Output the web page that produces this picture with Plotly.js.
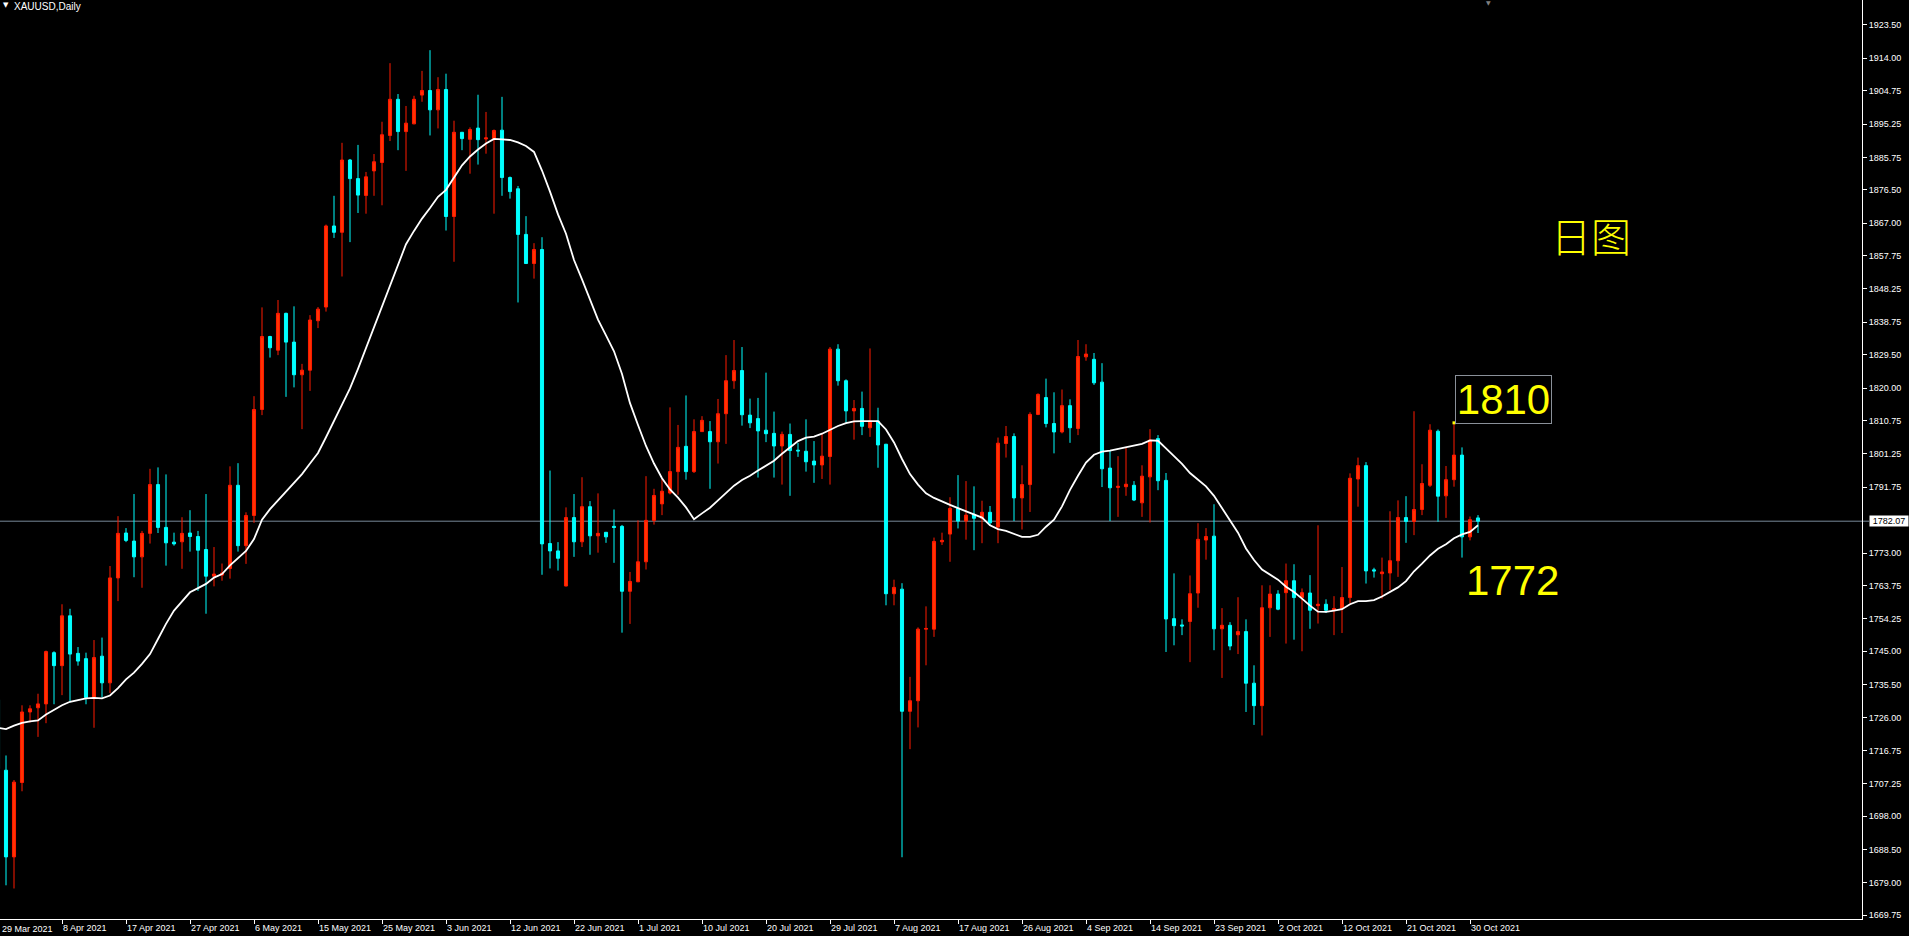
<!DOCTYPE html>
<html><head><meta charset="utf-8">
<script src="https://cdn.plot.ly/plotly-3.0.1.min.js"></script>
<style>html,body{margin:0;padding:0;background:#000;overflow:hidden}#chart{width:1909px;height:936px}</style>
</head><body><div id="chart"></div>
<script>
// XAUUSD Daily OHLC, one value per bar
const openP = [1731.2,1711.1,1686.4,1707.6,1727.7,1728.9,1730.0,1744.6,1740.9,1755.1,1744.4,1742.9,1731.8,1743.6,1736.0,1765.9,1778.7,1776.4,1771.9,1778.6,1792.5,1780.3,1776.1,1776.2,1778.7,1777.7,1774.0,1766.4,1766.7,1768.6,1792.3,1775.1,
1783.7,1813.9,1834.7,1830.8,1841.3,1833.1,1823.8,1825.1,1839.2,1843.1,1866.2,1864.4,1885.0,1879.7,1874.9,1881.9,1884.3,1892.0,1902.3,1893.1,1895.3,1903.5,1904.8,1899.3,1905.1,1868.9,1892.9,1890.9,1894.1,1891.0,1891.1,
1893.5,1880.0,1876.8,1863.8,1855.5,1859.5,1775.7,1773.6,1763.6,1783.1,1776.2,1786.2,1777.9,1778.9,1780.6,1780.6,1762.1,1764.8,1770.5,1782.3,1787.0,1790.1,1796.2,1803.4,1796.2,1807.6,1807.6,1804.7,1812.7,1822.1,1825.0,
1812.3,1811.3,1808.0,1807.1,1803.5,1806.8,1802.3,1802.0,1799.2,1798.1,1800.5,1831.1,1822.1,1813.5,1814.2,1808.7,1810.6,1804.0,1761.4,1762.7,1727.9,1730.9,1751.3,1751.3,1776.2,1778.4,1785.7,1782.1,1784.0,1782.9,1784.6,1780.4,
1804.2,1806.2,1788.7,1792.5,1812.5,1817.3,1809.9,1807.5,1815.0,1808.5,1828.9,1828.2,1821.7,1797.2,1791.7,1791.9,1792.3,1787.3,1794.7,1805.6,1793.7,1754.3,1752.5,1753.5,1761.6,1776.7,1777.8,1751.4,1752.4,1749.7,1750.6,
1735.9,1729.5,1757.4,1761.3,1761.7,1765.1,1760.3,1761.6,1758.0,1758.4,1756.7,1757.1,1760.3,1794.1,1797.9,1768.2,1767.1,1767.3,1770.8,1783.1,1782.0,1785.4,1792.3,1807.7,1789.3,1793.9,1800.9,1777.6,1783.0];
const highP = [1732.5,1715.3,1708.3,1729.6,1729.6,1732.9,1745.2,1745.0,1758.4,1757.1,1746.2,1744.6,1748.2,1748.9,1769.3,1783.5,1780.1,1789.8,1779.3,1797.0,1797.4,1795.4,1778.8,1783.2,1785.2,1779.3,1789.8,1774.7,1770.0,1797.7,1798.6,1784.6,
1817.7,1843.0,1834.9,1845.1,1841.5,1843.3,1826.9,1840.8,1843.1,1866.6,1874.8,1889.9,1885.3,1889.3,1881.6,1886.7,1895.9,1912.6,1903.8,1900.4,1903.3,1910.4,1916.3,1908.6,1909.6,1896.2,1893.0,1894.3,1903.6,1898.7,1893.7,
1903.0,1880.3,1877.6,1869.0,1861.3,1863.0,1796.5,1776.1,1786.0,1789.8,1794.6,1787.8,1790.0,1779.0,1785.4,1781.0,1767.6,1782.3,1794.9,1791.3,1794.1,1814.5,1809.5,1817.9,1811.1,1812.0,1810.6,1816.9,1829.4,1833.7,1831.7,
1817.0,1817.2,1824.4,1813.3,1807.6,1809.9,1804.4,1811.1,1804.9,1807.1,1831.7,1832.5,1822.5,1816.6,1819.0,1831.3,1814.4,1804.1,1765.4,1764.4,1737.7,1751.8,1757.8,1777.4,1778.8,1788.9,1795.2,1793.5,1792.0,1787.9,1786.4,1805.9,
1809.2,1807.1,1798.0,1813.1,1818.5,1822.7,1818.8,1819.6,1816.8,1833.7,1832.5,1830.0,1827.1,1802.3,1800.6,1803.1,1793.5,1798.0,1808.3,1806.6,1795.8,1767.2,1754.1,1766.6,1781.5,1780.1,1786.9,1757.3,1753.3,1760.4,1754.1,
1741.0,1763.8,1763.8,1762.4,1770.0,1769.8,1762.9,1766.7,1780.9,1759.8,1760.7,1769.0,1795.7,1800.2,1798.9,1768.8,1771.7,1784.9,1788.0,1789.2,1813.4,1798.3,1809.7,1808.2,1797.8,1810.1,1803.1,1783.4,1783.8];
const lowP = [1709.0,1678.3,1677.4,1705.1,1724.7,1720.6,1724.5,1729.9,1732.5,1730.8,1740.9,1729.9,1723.2,1731.8,1733.1,1759.3,1776.1,1766.1,1763.1,1775.7,1778.7,1769.4,1775.1,1768.5,1773.4,1762.2,1755.7,1763.5,1765.1,1765.7,1773.4,1769.9,
1781.6,1812.3,1828.7,1829.4,1817.5,1820.2,1808.3,1819.2,1837.1,1841.8,1862.8,1851.8,1861.6,1869.9,1869.7,1874.8,1872.1,1890.4,1887.8,1881.9,1895.2,1901.6,1892.0,1894.0,1864.9,1856.0,1887.8,1881.1,1883.7,1886.8,1869.7,
1874.8,1874.0,1844.4,1855.4,1851.2,1766.8,1768.6,1768.0,1763.5,1771.9,1774.7,1772.5,1773.1,1775.9,1770.2,1750.3,1752.8,1764.7,1768.3,1781.1,1783.8,1789.7,1789.6,1793.9,1795.8,1807.5,1791.3,1798.5,1804.1,1819.8,1809.3,
1808.6,1794.5,1804.6,1794.5,1792.5,1789.3,1800.4,1796.2,1793.0,1794.1,1792.5,1820.7,1810.1,1805.3,1806.6,1806.1,1797.3,1758.1,1758.1,1686.3,1717.1,1723.3,1741.0,1749.1,1775.3,1770.5,1780.0,1776.8,1773.8,1775.8,1780.8,1775.8,
1800.2,1782.1,1779.7,1784.7,1812.3,1808.8,1801.4,1807.1,1804.4,1806.6,1827.8,1820.9,1791.8,1782.1,1783.3,1789.3,1787.8,1783.3,1781.7,1790.9,1744.8,1746.7,1749.6,1741.9,1757.4,1771.1,1745.3,1737.4,1745.3,1744.2,1727.7,
1724.0,1721.0,1749.1,1756.7,1747.2,1748.3,1745.0,1751.4,1752.9,1755.9,1749.6,1750.2,1758.6,1786.2,1764.3,1766.0,1760.0,1762.4,1766.2,1775.9,1778.1,1783.8,1791.8,1781.9,1783.0,1791.9,1771.7,1776.6,1778.7];
const closeP = [1711.5,1686.4,1707.7,1727.7,1728.6,1730.0,1744.9,1740.9,1755.1,1744.2,1742.2,1731.8,1743.2,1736.0,1765.9,1778.6,1776.6,1771.9,1778.6,1792.5,1780.3,1775.9,1775.6,1778.6,1777.7,1773.8,1766.4,1767.0,1767.3,1792.3,1775.1,1783.7,
1813.9,1834.7,1831.5,1841.3,1833.1,1823.8,1825.1,1839.4,1842.5,1866.2,1864.4,1885.0,1879.7,1875.0,1880.2,1884.5,1892.2,1902.3,1893.1,1895.5,1902.3,1904.8,1899.3,1905.1,1868.9,1892.9,1891.1,1893.7,1890.8,1891.3,1893.4,
1880.0,1876.0,1863.8,1855.5,1859.5,1775.6,1773.6,1771.5,1783.1,1776.2,1786.2,1777.9,1778.6,1777.6,1780.3,1762.1,1764.9,1770.5,1782.3,1789.4,1790.6,1796.2,1803.1,1796.2,1807.6,1810.8,1804.7,1812.7,1822.1,1825.0,1812.4,
1810.1,1807.8,1807.0,1803.5,1806.8,1802.2,1802.1,1799.0,1798.1,1800.6,1831.1,1822.1,1813.5,1814.2,1809.1,1810.6,1803.8,1761.4,1763.2,1727.9,1730.9,1751.3,1751.5,1776.3,1776.6,1785.7,1782.1,1783.8,1782.9,1784.6,1781.6,1804.3,
1806.2,1788.7,1792.5,1812.5,1818.2,1809.9,1807.5,1815.0,1808.7,1829.0,1829.7,1821.5,1797.0,1791.6,1792.0,1792.6,1788.1,1794.9,1805.2,1793.6,1754.2,1752.3,1752.2,1761.4,1776.9,1777.7,1751.4,1752.4,1746.5,1750.6,1735.9,
1729.5,1757.4,1761.3,1757.0,1765.1,1760.3,1761.7,1756.7,1758.4,1756.7,1757.2,1760.3,1794.3,1797.9,1767.9,1767.9,1767.6,1770.8,1783.1,1782.0,1785.4,1792.8,1808.0,1789.2,1793.9,1800.9,1777.6,1782.5,1782.07];
// white moving-average line, one value per bar
const maValues = [1723.2,1722.8,1723.8,1724.6,1725.0,1725.3,1727.0,1728.3,1729.6,1730.6,1731.2,1731.6,1731.7,1731.6,1732.4,1734.5,1737.0,1738.9,1741.4,1744.2,1748.5,1752.8,1756.6,1759.3,1761.8,1763.0,1764.2,1766.0,1767.0,1769.5,1771.6,1773.6,
1777.0,1782.5,1785.5,1788.0,1790.3,1792.7,1795.5,1798.5,1801.5,1806.0,1810.5,1815.0,1819.9,1825.5,1831.5,1837.0,1843.5,1849.5,1855.5,1861.0,1864.8,1868.3,1871.3,1874.5,1876.5,1880.0,1883.5,1886.0,1888.0,1889.7,1891.0,
1890.9,1890.7,1890.0,1889.0,1887.3,1882.0,1876.0,1869.5,1864.0,1856.5,1851.0,1845.5,1839.5,1835.0,1830.5,1824.0,1815.7,1809.5,1803.5,1798.5,1794.3,1791.1,1788.8,1786.0,1782.6,1784.3,1785.9,1788.0,1790.2,1792.2,1793.8,
1795.0,1796.5,1798.0,1799.3,1801.3,1803.2,1804.9,1805.9,1806.2,1807.0,1808.2,1809.2,1810.0,1810.5,1810.6,1810.6,1810.6,1808.2,1804.5,1799.8,1795.5,1792.5,1790.0,1788.7,1787.6,1786.7,1785.8,1784.9,1784.2,1783.1,1780.9,1779.8,
1779.3,1778.4,1777.6,1777.6,1778.2,1780.5,1782.5,1786.3,1791.0,1795.0,1798.8,1801.0,1801.9,1802.2,1802.7,1803.2,1803.6,1804.1,1805.1,1805.0,1802.8,1800.7,1798.4,1795.8,1793.8,1792.0,1789.3,1785.7,1782.4,1778.8,1774.3,
1771.0,1768.3,1766.8,1765.4,1763.4,1761.9,1760.0,1758.0,1756.3,1756.2,1756.6,1757.0,1758.4,1759.3,1759.3,1759.6,1760.6,1762.0,1763.2,1765.0,1767.8,1770.0,1772.3,1774.2,1775.5,1777.2,1778.3,1779.0,1780.9];
// date labels, one every 8 bars
const tickLabels = ["29 Mar 2021","8 Apr 2021","17 Apr 2021","27 Apr 2021","6 May 2021","15 May 2021","25 May 2021","3 Jun 2021","12 Jun 2021","22 Jun 2021","1 Jul 2021","10 Jul 2021","20 Jul 2021","29 Jul 2021","7 Aug 2021","17 Aug 2021","26 Aug 2021","4 Sep 2021","14 Sep 2021","23 Sep 2021","2 Oct 2021","12 Oct 2021","21 Oct 2021","30 Oct 2021"];
const priceTicks = [1923.50,1914.00,1904.75,1895.25,1885.75,1876.50,1867.00,1857.75,1848.25,1838.75,1829.50,1820.00,1810.75,1801.25,1791.75,1773.00,1763.75,1754.25,1745.00,1735.50,1726.00,1716.75,1707.25,1698.00,1688.50,1679.00,1669.75];
const lastPrice = 1782.07;
const markHigh = 1810;   // annotated high
const markLow = 1772;    // annotated level
const chartTitle = "XAUUSD,Daily";
const periodLabel = "日图";

const barIdx = openP.map((_, i) => i);
const tickBars = tickLabels.map((_, k) => k * 8);
// bar whose high is the annotated 1810 level
let markBar = 0;
highP.forEach((h, i) => { if (Math.abs(h - markHigh) <= Math.abs(highP[markBar] - markHigh)) markBar = i; });

const traces = [
  {
    type: 'candlestick', x: barIdx, open: openP, high: highP, low: lowP, close: closeP,
    increasing: {line: {color: '#ff1a00', width: 1}, fillcolor: '#ff3300'},
    decreasing: {line: {color: '#00ffff', width: 1}, fillcolor: '#00ffff'},
    whiskerwidth: 0, hoverinfo: 'skip'
  },
  {
    type: 'scatter', mode: 'lines', x: barIdx, y: maValues,
    line: {color: '#ffffff', width: 1.8}, hoverinfo: 'skip'
  },
  {
    type: 'scatter', mode: 'markers', x: [markBar], y: [highP[markBar]],
    marker: {symbol: 'square', size: 3, color: '#ffff00'}, hoverinfo: 'skip'
  }
];

const axisFont = {family: 'Liberation Sans, Arial, sans-serif', size: 9, color: '#ffffff'};

const layout = {
  width: 1909, height: 936,
  paper_bgcolor: '#000000', plot_bgcolor: '#000000',
  margin: {l: 0, r: 47, t: 0, b: 17, pad: 0},
  showlegend: false, boxgap: 0.45,
  font: axisFont,
  xaxis: {
    type: 'linear', range: [0.25, 233], rangeslider: {visible: false},
    showgrid: false, zeroline: false, showline: true, linecolor: '#ffffff', linewidth: 1,
    ticks: 'outside', ticklen: 4, tickcolor: '#ffffff', tickwidth: 1,
    tickvals: tickBars, ticktext: tickLabels, ticklabelposition: 'outside right',
    tickfont: axisFont, tickangle: 0, automargin: false, fixedrange: true
  },
  yaxis: {
    side: 'right', range: [1668.7, 1930.6],
    showgrid: false, zeroline: false, showline: true, linecolor: '#ffffff', linewidth: 1,
    ticks: 'outside', ticklen: 4, tickcolor: '#ffffff', tickwidth: 1,
    tickvals: priceTicks, ticktext: priceTicks.map(v => v.toFixed(2)),
    tickfont: axisFont, automargin: false, fixedrange: true
  },
  shapes: [
    {type: 'line', xref: 'paper', yref: 'y', x0: 0, x1: 1.0038, y0: lastPrice, y1: lastPrice,
     line: {color: '#778899', width: 1}, layer: 'below'}
  ],
  annotations: [
    {xref: 'paper', yref: 'paper', x: 0, y: 1, xanchor: 'left', yanchor: 'top', xshift: 1, yshift: 1,
     text: '▼', showarrow: false, font: {family: 'DejaVu Sans', size: 7, color: '#ffffff'}},
    {xref: 'paper', yref: 'paper', x: 0, y: 1, xanchor: 'left', yanchor: 'top', xshift: 12, yshift: 1,
     text: chartTitle, showarrow: false, font: {family: 'Liberation Sans, Arial, sans-serif', size: 10, color: '#ffffff'}},
    {xref: 'paper', yref: 'paper', x: 0, y: 0, xanchor: 'left', yanchor: 'top', xshift: 0, yshift: -3,
     text: tickLabels[0], showarrow: false, font: axisFont},
    {xref: 'paper', yref: 'y', x: 1, y: lastPrice, xanchor: 'left', yanchor: 'middle', xshift: 7,
     text: lastPrice.toFixed(2), showarrow: false, bgcolor: '#ffffff', borderpad: 0, height: 10, width: 38,
     font: {family: 'Liberation Sans, Arial, sans-serif', size: 9, color: '#000000'}},
    {xref: 'paper', yref: 'paper', x: 0.8545, y: 0.7445, xanchor: 'center', yanchor: 'middle',
     text: periodLabel, showarrow: false, font: {family: 'Noto Sans CJK SC', size: 40, weight: 300, color: '#ffff00'}},
    {xref: 'paper', yref: 'paper', x: 0.8075, y: 0.5653, xanchor: 'center', yanchor: 'middle',
     text: String(markHigh), showarrow: false, width: 95, height: 47, borderpad: 0,
     bordercolor: '#8a9099', borderwidth: 1,
     font: {family: 'Liberation Sans, Arial, sans-serif', size: 42, color: '#ffff00'}},
    {xref: 'paper', yref: 'paper', x: 0.8123, y: 0.3678, xanchor: 'center', yanchor: 'middle',
     text: String(markLow), showarrow: false,
     font: {family: 'Liberation Sans, Arial, sans-serif', size: 42, color: '#ffff00'}},
    {xref: 'paper', yref: 'paper', x: 1488 / 1862, y: 1, xanchor: 'center', yanchor: 'top', yshift: 3,
     text: '▼', showarrow: false, font: {family: 'DejaVu Sans', size: 6, color: '#808080'}}
  ]
};

Plotly.newPlot('chart', traces, layout, {displayModeBar: false, staticPlot: true});
</script>
</body></html>
